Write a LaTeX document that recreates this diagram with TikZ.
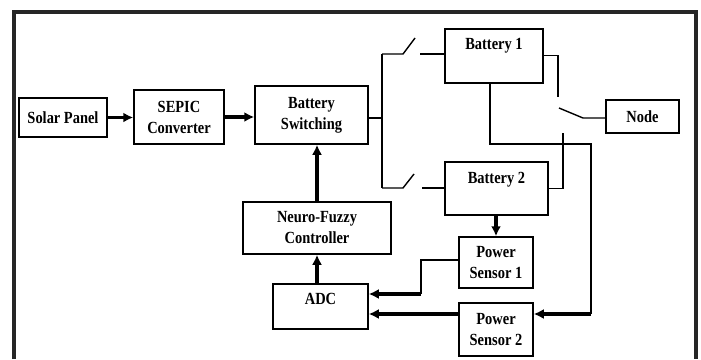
\documentclass[tikz,border=0pt]{standalone}
\usepackage{fontspec}
\setmainfont{Liberation Serif}[FakeStretch=0.85]
\usetikzlibrary{arrows.meta,positioning}
\begin{document}
\begin{tikzpicture}[x=1pt, y=-1pt, font=\bfseries\fontsize{17}{21}\selectfont, frame/.style={line width=3.2pt, black!85}, blk/.style={draw, line width=1.5pt, inner sep=0pt, align=center}, topblk/.style 2 args={blk, anchor=north, text height=#1, text depth=#2}, wire/.style={line width=1.4pt}, flow/.style={-{Latex[length=10pt,width=10pt]}, line width=3.2pt}]
\useasboundingbox (0,0) rectangle (701,359);
\draw[frame] (14,359) -- (14,12) -- (696,12) -- (696,359);
\node[blk, minimum width=88pt, minimum height=39pt] (solar) at (63,117.5) {Solar Panel};
\node[blk, minimum width=90pt, minimum height=54pt] (sepic) at (179,117) {SEPIC\\Converter};
\node[blk, minimum width=113pt, minimum height=58pt] (bsw) at (311.5,115) {Battery\\Switching};
\node[topblk={21pt}{33pt}, minimum width=98pt] (bat1) at (494,28) {Battery 1};
\node[topblk={22pt}{31pt}, minimum width=103pt] (bat2) at (496.5,161) {Battery 2};
\node[blk, minimum width=73pt, minimum height=33pt] (load) at (642.5,116.5) {Node};
\node[blk, minimum width=148pt, minimum height=52pt] (nfc) at (317,228) {Neuro-Fuzzy\\Controller};
\node[topblk={21pt}{24pt}, minimum width=95pt] (adc) at (320.5,283) {ADC};
\node[blk, minimum width=74pt, minimum height=51pt] (ps1) at (496,262.5) {Power\\Sensor 1};
\node[blk, minimum width=74pt, minimum height=53pt] (ps2) at (496,329.5) {Power\\Sensor 2};
\coordinate (bus) at (382,118); \coordinate (bustop) at (382,54); \coordinate (busbot) at (382,188);
\coordinate (s1a) at (403,54); \coordinate (s1b) at (415,38); \coordinate (s1c) at (420,54);
\coordinate (s2a) at (403,188); \coordinate (s2b) at (414,174); \coordinate (s2c) at (422,188);
\coordinate (k1) at (558,97); \coordinate (k2) at (563,133); \coordinate (kb) at (559,108); \coordinate (kp) at (583,118);
\coordinate (b1d) at (490,144); \coordinate (b1r) at (591,144); \coordinate (b1e) at (591,314);
\coordinate (c1) at (421,260); \coordinate (c2) at (421,294);
\draw[flow] (solar.east) -- (solar.east -| sepic.west);
\draw[flow] (sepic.east) -- (sepic.east -| bsw.west);
\draw[wire] (bus -| bsw.east) -- (bus);
\draw[wire] (bustop) -- (busbot);
\draw[wire] (bustop) -- (s1a) -- (s1b); \draw[wire] (s1c) -- (s1c -| bat1.west);
\draw[wire] (busbot) -- (s2a) -- (s2b); \draw[wire] (s2c) -- (s2c -| bat2.west);
\draw[wire] (bat1.east) -- (bat1.east -| k1) -- (k1);
\draw[wire] (bat2.east) -- (bat2.east -| k2) -- (k2);
\draw[wire] (load.west |- kp) -- (kp) -- (kb);
\draw[wire] (b1d |- bat1.south) -- (b1d) -- (b1r) -- (b1e);
\draw[flow] (b1e) -- (b1e -| ps2.east);
\draw[flow] (ps1.north |- bat2.south) -- (ps1.north);
\draw[wire] (ps1.west |- c1) -- (c1) -- (c2);
\draw[flow] (c2) -- (c2 -| adc.east);
\draw[flow] (b1e -| ps2.west) -- (b1e -| adc.east);
\draw[flow] (nfc.south |- adc.north) -- (nfc.south);
\draw[flow] (nfc.north) -- (nfc.north |- bsw.south);
\end{tikzpicture}
\end{document}
